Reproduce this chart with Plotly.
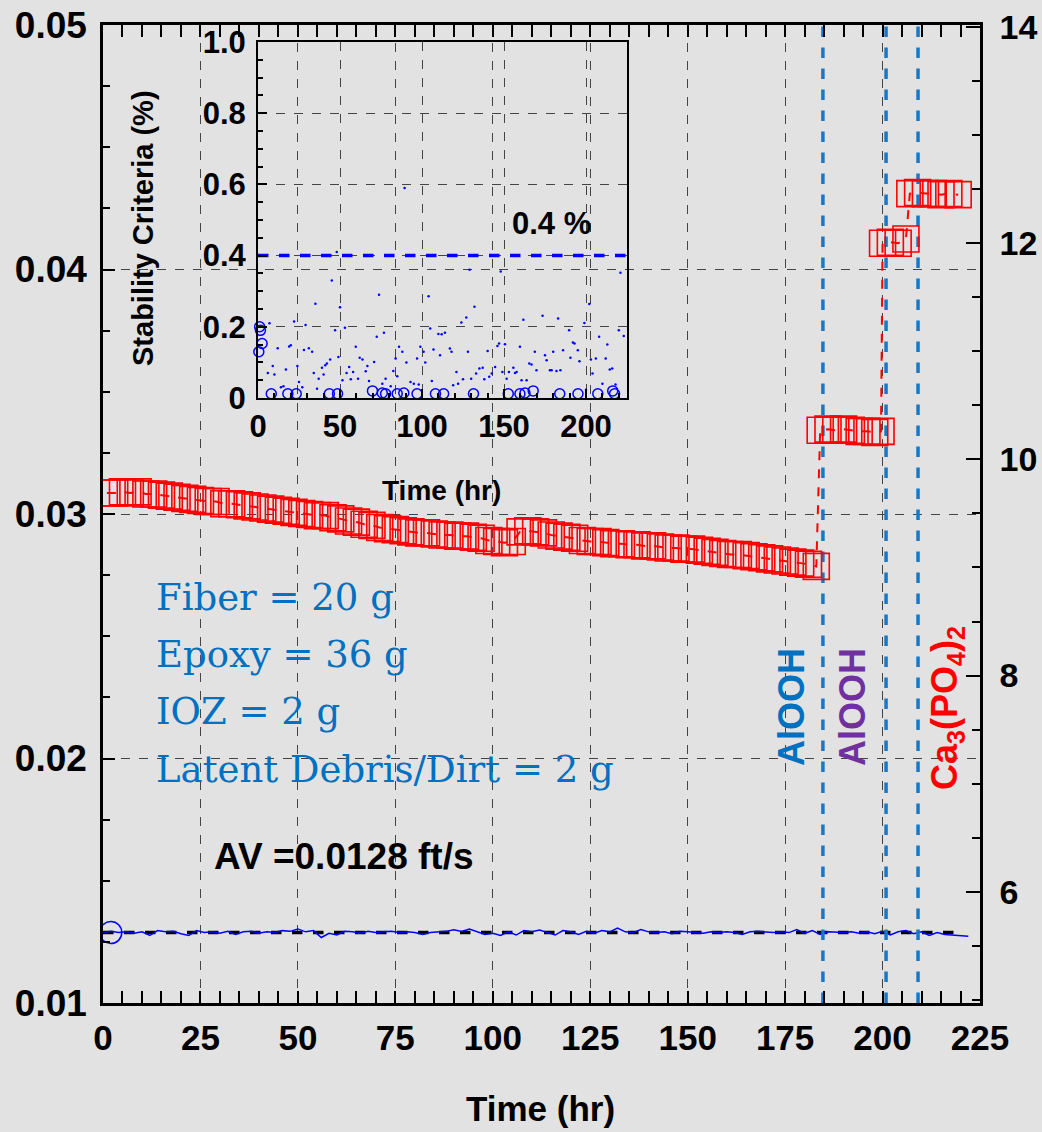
import plotly.graph_objects as go

# ---------------- data ----------------
# main: head-loss (right axis) red squares
red_t = [1, 3, 5, 7, 9, 11, 13, 15, 17, 19, 21, 23, 25, 27, 29, 31, 33, 35, 37, 39,
         41, 43, 45, 47, 49, 51, 53, 55, 57, 59, 61, 63, 65, 67, 69, 71, 73, 75, 77, 79,
         81, 83, 85, 87, 89, 91, 93, 95, 97, 99, 101, 103, 105, 107, 109, 111, 113, 115, 117, 119,
         121, 123, 125, 127, 129, 131, 133, 135, 137, 139, 141, 143, 145, 147, 149, 151, 153, 155, 157, 159,
         161, 163, 165, 167, 169, 171, 173, 175, 177, 179, 181, 183,
         184, 186, 188, 190, 192, 194, 196, 198, 199.6,
         200, 202, 204, 206,
         207, 209, 211, 213, 215, 217, 219.4]
red_v = [9.69, 9.69, 9.70, 9.69, 9.70, 9.68, 9.68, 9.67, 9.66, 9.65, 9.64, 9.63, 9.62, 9.61, 9.61, 9.59, 9.59, 9.58, 9.57, 9.56,
         9.55, 9.54, 9.53, 9.52, 9.51, 9.50, 9.49, 9.48, 9.48, 9.46, 9.45, 9.43, 9.42, 9.40, 9.39, 9.37, 9.36, 9.35, 9.34, 9.33,
         9.32, 9.32, 9.31, 9.30, 9.30, 9.29, 9.29, 9.28, 9.27, 9.25, 9.24, 9.23, 9.24, 9.33, 9.34, 9.33, 9.32, 9.30, 9.29, 9.28,
         9.27, 9.25, 9.24, 9.24, 9.23, 9.22, 9.22, 9.21, 9.21, 9.20, 9.20, 9.19, 9.18, 9.18, 9.17, 9.17, 9.16, 9.15, 9.14, 9.13,
         9.12, 9.12, 9.11, 9.10, 9.09, 9.08, 9.07, 9.06, 9.05, 9.04, 9.03, 9.01,
         10.27, 10.28, 10.27, 10.28, 10.27, 10.26, 10.26, 10.25, 10.26,
         12.00, 12.01, 12.00, 12.04,
         12.46, 12.47, 12.46, 12.46, 12.45, 12.46, 12.45]

# main: approach velocity (left axis) blue line
vel_t = list(range(0, 224, 2))
vel_v = [0.01288, 0.01293, 0.01288, 0.01291, 0.01285, 0.01291, 0.01276, 0.01296, 0.01291, 0.01293,
         0.01283, 0.01276, 0.01296, 0.01288, 0.01291, 0.01285, 0.01293, 0.01280, 0.01291, 0.01293,
         0.01285, 0.01291, 0.01288, 0.01296, 0.01293, 0.01303, 0.01291, 0.01296, 0.01268, 0.01285,
         0.01278, 0.01293, 0.01291, 0.01285, 0.01293, 0.01288, 0.01291, 0.01293, 0.01288, 0.01291,
         0.01288, 0.01280, 0.01288, 0.01291, 0.01293, 0.01300, 0.01293, 0.01303, 0.01291, 0.01280,
         0.01285, 0.01276, 0.01291, 0.01278, 0.01296, 0.01291, 0.01298, 0.01288, 0.01278, 0.01296,
         0.01291, 0.01280, 0.01293, 0.01285, 0.01296, 0.01291, 0.01306, 0.01291, 0.01288, 0.01300,
         0.01291, 0.01288, 0.01291, 0.01283, 0.01293, 0.01291, 0.01288, 0.01285, 0.01291, 0.01288,
         0.01291, 0.01288, 0.01280, 0.01291, 0.01293, 0.01291, 0.01288, 0.01291, 0.01288, 0.01300,
         0.01285, 0.01296, 0.01280, 0.01291, 0.01288, 0.01288, 0.01291, 0.01285, 0.01291, 0.01283,
         0.01293, 0.01278, 0.01291, 0.01296, 0.01283, 0.01291, 0.01276, 0.01288, 0.01280, 0.01278,
         0.01276, 0.01273]
av_t = [0, 218.5]
av_v = [0.01288, 0.01288]
start_t = [2]
start_v = [0.01288]

event_t = [184.7, 200.9, 209.1]

# inset: stability criteria (%)
dot_t = [6, 7, 9, 10, 12, 14, 15.5, 17, 19, 20, 22, 24, 25, 27, 28, 29, 31, 33, 34, 35,
         36, 37, 39, 40, 41, 42, 44, 45, 47, 48, 49, 50, 51.5, 53, 54, 55.6, 56.6, 58, 59.6, 61,
         62, 63.7, 65.7, 66.7, 67.7, 70.8, 72.4, 73.8, 75.8, 76.8, 77.8, 80.9, 82.5, 83.9, 84.9, 86, 88, 89.4, 90.5, 93,
         95, 97, 98, 99, 101, 102, 104, 105, 106, 107, 110, 111, 112, 114, 117, 118, 119, 121, 122, 124,
         125, 127, 128, 129, 130, 132, 133, 135, 137, 138, 140, 141, 142.5, 144.6, 146, 147, 148, 149, 150.6, 151.6,
         153, 155.7, 156.7, 157.7, 159.7, 160.7, 161.8, 163.8, 165.4, 166.8, 168.8, 169.8, 173.5, 175, 176, 178, 179, 180, 182, 183,
         184.4, 186, 189.7, 190.5, 192, 193, 195, 196, 199, 200, 202, 203, 204, 206, 208, 210, 212, 213, 214.5, 216,
         218, 220, 221, 223]
dot_v = [0.07, 0.21, 0.09, 0.066, 0.14, 0.03, 0.033, 0.08, 0.145, 0.148, 0.215, 0.09, 0.045, 0.03, 0.135, 0.205, 0.14, 0.13, 0.07, 0.265,
         0.026, 0.054, 0.085, 0.066, 0.092, 0.097, 0.108, 0.33, 0.19, 0.41, 0.115, 0.255, 0.05, 0.197, 0.07, 0.087, 0.053, 0.073, 0.144, 0.054,
         0.113, 0.108, 0.075, 0.09, 0.048, 0.101, 0.172, 0.29, 0.04, 0.183, 0.054, 0.033, 0.076, 0.111, 0.061, 0.144, 0.13, 0.59, 0.1, 0.045,
         0.04, 0.111, 0.038, 0.144, 0.13, 0.1, 0.286, 0.195, 0.048, 0.136, 0.18, 0.12, 0.179, 0.183, 0.139, 0.13, 0.036, 0.073, 0.04, 0.212,
         0.053, 0.226, 0.13, 0.36, 0.054, 0.256, 0.069, 0.083, 0.085, 0.053, 0.132, 0.06, 0.069, 0.087, 0.146, 0.153, 0.355, 0.073, 0.151, 0.054,
         0.073, 0.085, 0.07, 0.073, 0.144, 0.05, 0.22, 0.05, 0.097, 0.094, 0.13, 0.078, 0.231, 0.12, 0.106, 0.078, 0.078, 0.13, 0.076, 0.223,
         0.078, 0.134, 0.19, 0.113, 0.156, 0.153, 0.134, 0.103, 0.211, 0.023, 0.264, 0.108, 0.069, 0.111, 0.172, 0.04, 0.111, 0.15, 0.08, 0.083,
         0.038, 0.19, 0.352, 0.174]
circ_t = [0.5, 1.0, 1.5, 2.5, 8.1, 18.2, 23.3, 43.5, 48.5, 69.8, 75.8, 77.8, 84.9, 88.9, 97, 108.2, 113.2, 131.4,
          152.6, 159.7, 162.8, 167.8, 184, 195.1, 207.2, 216.3, 217.4]
circ_v = [0.13, 0.2, 0.19, 0.153, 0.012, 0.012, 0.012, 0.012, 0.012, 0.02, 0.014, 0.012, 0.012, 0.014, 0.012, 0.012, 0.012, 0.012,
          0.012, 0.012, 0.014, 0.02, 0.012, 0.012, 0.012, 0.02, 0.012]
crit_t = [0, 225]
crit_v = [0.4, 0.4]

main_xticks = [0, 25, 50, 75, 100, 125, 150, 175, 200, 225]
left_ticks = [0.01, 0.02, 0.03, 0.04, 0.05]
right_ticks = [6, 8, 10, 12, 14]
inset_xticks = [0, 50, 100, 150, 200]
inset_yticks = [0, 0.2, 0.4, 0.6, 0.8, 1.0]
inset_yticktext = ["0", "0.2", "0.4", "0.6", "0.8", "1.0"]

# ---------------- figure ----------------
BG = "#e2e2e2"
SANS = "Liberation Sans, Arial, sans-serif"
BLUE_TXT = "#0070c0"
EV_BLUE = "#1878c8"

# plot area in pixels
L, R, T, B = 103, 980, 25, 1003
W, H = R - L, B - T


def px(xp):
    return (xp - L) / W


def py(yp):
    return (B - yp) / H


fig = go.Figure()

fig.add_trace(go.Scatter(x=red_t, y=red_v, yaxis="y2", mode="lines+markers",
                         line=dict(color="#ff0000", width=2, dash="dash"),
                         marker=dict(symbol="square-open", size=26, color="#ff0000",
                                     line=dict(width=1.6, color="#ff0000")),
                         hoverinfo="skip"))
fig.add_trace(go.Scatter(x=av_t, y=av_v, mode="lines",
                         line=dict(color="black", width=3.5, dash="dash"), hoverinfo="skip"))
fig.add_trace(go.Scatter(x=vel_t, y=vel_v, mode="lines",
                         line=dict(color="#0000ff", width=1.5), hoverinfo="skip"))
fig.add_trace(go.Scatter(x=start_t, y=start_v, mode="markers",
                         marker=dict(symbol="circle-open", size=22, color="#0000ff",
                                     line=dict(width=1.5, color="#0000ff")), hoverinfo="skip"))
for et in event_t:
    fig.add_trace(go.Scatter(x=[et, et], y=[0.01, 0.05], mode="lines",
                             line=dict(color=EV_BLUE, width=3.5, dash="dash"), hoverinfo="skip"))

# inset
fig.add_trace(go.Scatter(x=crit_t, y=crit_v, xaxis="x3", yaxis="y3", mode="lines",
                         line=dict(color="#0000ff", width=3.5, dash="dash"), hoverinfo="skip"))
fig.add_trace(go.Scatter(x=dot_t, y=dot_v, xaxis="x3", yaxis="y3", mode="markers",
                         marker=dict(symbol="circle", size=2.5, color="#0000ff"), hoverinfo="skip"))
fig.add_trace(go.Scatter(x=circ_t, y=circ_v, xaxis="x3", yaxis="y3", mode="markers",
                         marker=dict(symbol="circle-open", size=10, color="#0000ff",
                                     line=dict(width=1.5, color="#0000ff")),
                         cliponaxis=False, hoverinfo="skip"))

axis_common = dict(ticks="inside", linecolor="black", tickcolor="black", showline=True,
                   zeroline=False, gridcolor="#444444", griddash="dash", gridwidth=1,
                   automargin=False)

fig.update_layout(
    width=1042, height=1132,
    paper_bgcolor=BG, plot_bgcolor="rgba(0,0,0,0)",
    showlegend=False,
    margin=dict(l=L, r=1042 - R, t=T, b=1132 - B, autoexpand=False),
    xaxis=dict(domain=[0, 1], range=[0, 225], tickvals=main_xticks, showgrid=True,
               linewidth=2.5, ticklen=12, tickwidth=2, mirror="allticks",
               minor=dict(dtick=5, ticklen=7, tickcolor="black", ticks="inside", showgrid=False),
               tickfont=dict(family=SANS, size=35, color="black", weight="bold"),
               ticklabelstandoff=2,
               **axis_common),
    yaxis=dict(domain=[0, 1], range=[0.01, 0.05], tickvals=left_ticks, showgrid=True,
               linewidth=2.5, ticklen=12, tickwidth=2, tickformat=".2f",
               minor=dict(dtick=0.0025, ticklen=7, tickcolor="black", ticks="inside", showgrid=False),
               tickfont=dict(family=SANS, size=37, color="black", weight="bold"),
               ticklabelstandoff=6,
               **axis_common),
    yaxis2=dict(overlaying="y", side="right", range=[4.97, 14.02], tickvals=right_ticks,
                showgrid=False, linewidth=2.5, ticklen=14, tickwidth=2,
                minor=dict(dtick=0.5, ticklen=8, tickcolor="black", ticks="inside", showgrid=False),
                tickfont=dict(family=SANS, size=34, color="black", weight="bold"),
                ticklabelstandoff=10, automargin=False,
                ticks="inside", linecolor="black", tickcolor="black", showline=True, zeroline=False),
    xaxis3=dict(domain=[px(258), px(627)], anchor="y3", range=[0, 225], tickvals=inset_xticks,
                showgrid=True, linewidth=2, ticklen=9, tickwidth=1.5, mirror=True,
                minor=dict(dtick=10, ticklen=5, tickcolor="black", ticks="inside", showgrid=False),
                tickfont=dict(family=SANS, size=31, color="black", weight="bold"),
                **axis_common),
    yaxis3=dict(domain=[py(398), py(42)], anchor="x3", range=[0, 1], tickvals=inset_yticks,
                ticktext=inset_yticktext, showgrid=True, linewidth=2, ticklen=9, tickwidth=1.5,
                mirror=True,
                minor=dict(dtick=0.05, ticklen=5, tickcolor="black", ticks="inside", showgrid=False),
                tickfont=dict(family=SANS, size=31, color="black", weight="bold"),
                ticklabelstandoff=4,
                **axis_common),
)


def note(text, xp, yp, size, color="black", family=SANS, weight="bold", angle=0, xanchor="center"):
    return dict(text=text, x=px(xp), y=py(yp), xref="paper", yref="paper",
                xanchor=xanchor, yanchor="middle", textangle=angle, showarrow=False,
                font=dict(family=family, size=size, color=color, weight=weight))


ann = [
    note("Time (hr)", 540, 1108, 35),
    note("Stability Criteria (%)", 143, 228, 29, angle=-90),
    note("Time (hr)", 441, 490, 28),
    note("0.4 %", 551, 224, 31),
    note("AV =0.0128 ft/s", 344, 856, 37),
    note("AlOOH", 791, 707, 36, color=BLUE_TXT, angle=-90),
    note("AlOOH", 852, 707, 36, color="#7030a0", angle=-90),
    note("Ca<sub>3</sub>(PO<sub>4</sub>)<sub>2</sub>", 947, 708, 36, color="#ff0000", angle=-90),
]
serif_lines = ["Fiber = 20 g", "Epoxy = 36 g", "IOZ = 2 g", "Latent Debris/Dirt = 2 g"]
serif_y = [597, 654, 712, 769]
for s, yy in zip(serif_lines, serif_y):
    ann.append(note(s, 154, yy, 37, color=BLUE_TXT, family="DejaVu Serif, Liberation Serif, serif",
                    weight="normal", xanchor="left"))
fig.update_layout(annotations=ann)

fig.write_html("out.html")
